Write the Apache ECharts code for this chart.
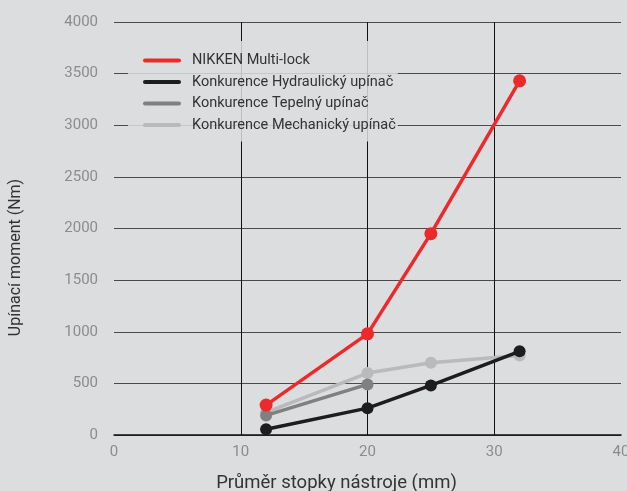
<!DOCTYPE html>
<html>
<head>
<meta charset="utf-8">
<script src="https://cdn.jsdelivr.net/npm/echarts@6/dist/echarts.min.js"></script>
<style>
html,body{margin:0;padding:0;background:#dcdddf;}
#c{width:627px;height:491px;}
</style>
</head>
<body>
<div id="c"></div>
<script>
const seriesNames = ['NIKKEN Multi-lock', 'Konkurence Hydraulický upínač', 'Konkurence Tepelný upínač', 'Konkurence Mechanický upínač'];
const nikkenX = [12, 20, 25, 32];
const nikkenY = [290, 980, 1950, 3430];
const hydrX = [12, 20, 25, 32];
const hydrY = [55, 260, 480, 810];
const tepX = [12, 20];
const tepY = [190, 490];
const mechX = [12, 20, 25, 32];
const mechY = [220, 600, 700, 770];
const colors = ['#ec2a2c', '#1d1d1f', '#808083', '#b9babc'];

function pairs(xs, ys){ return xs.map((x,i)=>[x, ys[i]]); }

const chart = echarts.init(document.getElementById('c'));
const font = 'Roboto, "Noto Sans", sans-serif';
const mk = (i, xs, ys, z) => ({
  name: seriesNames[i], type: 'line', data: pairs(xs, ys), z: z,
  symbol: 'circle', symbolSize: i === 0 ? 13 : 12,
  lineStyle: {color: colors[i], width: 3.5},
  itemStyle: {color: colors[i]},
  animation: false
});
chart.setOption({
  backgroundColor: '#dcdddf',
  textStyle: {fontFamily: font},
  grid: {left: 114, right: 6, top: 22, bottom: 56, containLabel: false, outerBoundsMode: 'none'},
  legend: {
    left: 128, top: 41, orient: 'vertical',
    backgroundColor: 'rgba(220,221,223,0.85)',
    padding: [12, 2, 9, 15],
    itemWidth: 38, itemHeight: 14, itemGap: 6.5,
    icon: 'path://M2,0 L36,0 A2,2 0 0 1 36,4 L2,4 A2,2 0 0 1 2,0 Z',
    textStyle: {color: '#333', fontSize: 14.5, fontFamily: font, padding: [0, 0, 0, 6]},
    data: seriesNames
  },
  xAxis: {
    type: 'value', min: 0, max: 40, interval: 10,
    name: 'Průměr stopky nástroje (mm)', nameLocation: 'middle', nameGap: 39,
    nameTextStyle: {color: '#333', fontSize: 18.5, padding: [0, 62, 0, 0]},
    axisLine: {show: true, lineStyle: {color: '#111', width: 1.5}},
    axisTick: {show: false},
    axisLabel: {color: '#8c8c8c', fontSize: 15, margin: 10},
    splitLine: {show: true, showMinLine: false, showMaxLine: false, lineStyle: {color: '#111', width: 1}}
  },
  yAxis: {
    type: 'value', min: 0, max: 4000, interval: 500,
    name: 'Upínací moment (Nm)', nameLocation: 'middle', nameGap: 90,
    nameTextStyle: {color: '#333', fontSize: 16, padding: [0, 58, 0, 0]},
    axisLine: {show: false}, axisTick: {show: false},
    axisLabel: {color: '#8c8c8c', fontSize: 15, margin: 16, formatter: v => String(v)},
    splitLine: {show: true, lineStyle: {color: '#4a4a4a', width: 1.2}}
  },
  series: [
    mk(0, nikkenX, nikkenY, 10),
    mk(1, hydrX, hydrY, 8),
    mk(2, tepX, tepY, 7),
    mk(3, mechX, mechY, 6)
  ]
});
</script>
</body>
</html>
